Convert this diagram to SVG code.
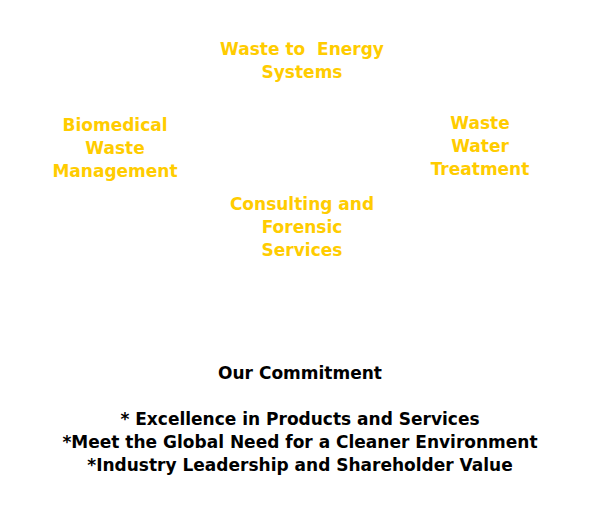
<svg xmlns="http://www.w3.org/2000/svg" width="603" height="516" viewBox="0 0 603 516">
<style>
text{font-family:"DejaVu Sans",Verdana,sans-serif;font-weight:bold;font-size:17px;text-anchor:middle;white-space:pre}
.y{fill:#FFCC00}
.k{fill:#000000}
</style>
<rect width="603" height="516" fill="#FFFFFF"/>
<g id="connectors"/>
<g id="waste-to-energy">
<text class="y" x="302" y="55" xml:space="preserve">Waste to  Energy</text>
<text class="y" x="302" y="78">Systems</text>
</g>
<g id="biomedical">
<text class="y" x="115" y="131">Biomedical</text>
<text class="y" x="115" y="154">Waste</text>
<text class="y" x="115" y="177">Management</text>
</g>
<g id="waste-water">
<text class="y" x="480" y="129">Waste</text>
<text class="y" x="480" y="152">Water</text>
<text class="y" x="480" y="175">Treatment</text>
</g>
<g id="consulting">
<text class="y" x="302" y="210">Consulting and</text>
<text class="y" x="302" y="233">Forensic</text>
<text class="y" x="302" y="256">Services</text>
</g>
<g id="commitment">
<text class="k" x="300" y="379">Our Commitment</text>
<text class="k" x="300" y="425">* Excellence in Products and Services</text>
<text class="k" x="300" y="448">*Meet the Global Need for a Cleaner Environment</text>
<text class="k" x="300" y="471">*Industry Leadership and Shareholder Value</text>
</g>
</svg>
